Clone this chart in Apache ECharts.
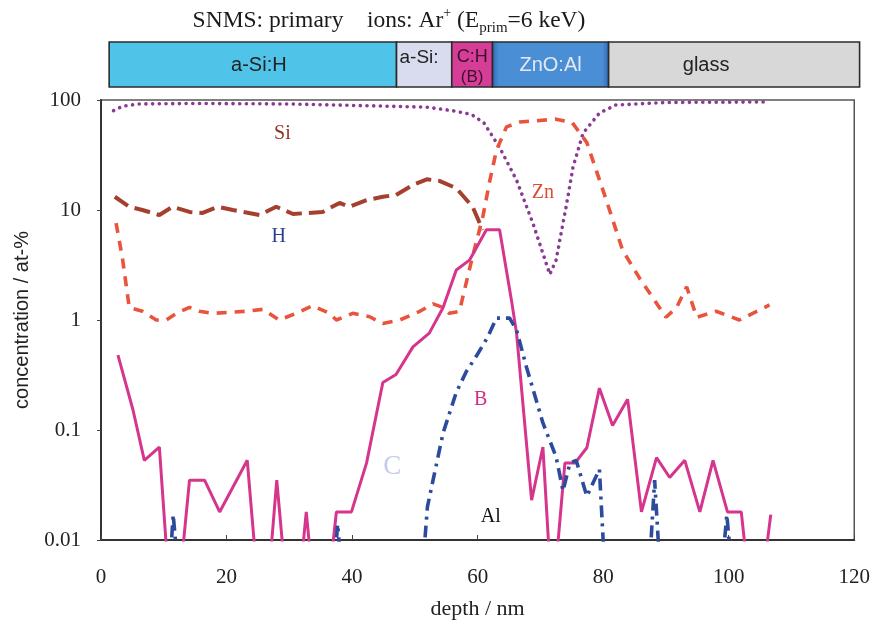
<!DOCTYPE html>
<html>
<head>
<meta charset="utf-8">
<script src="https://cdn.jsdelivr.net/npm/echarts@6.0.0/dist/echarts.min.js"></script>
<style>
  html, body { margin: 0; padding: 0; background: #fff; }
  #main { width: 873px; height: 631px; }
</style>
</head>
<body>
<div id="main"></div>
<script>
// depth in nm, concentration in at-%
const depthSi = [2, 3.5, 6, 15, 30, 45, 52, 56, 59, 61, 63.5, 66.2, 68.8, 71.5, 72.5, 74.1, 75.2, 76.8, 79.4, 82, 90, 106.5]
const valSi = [80, 88, 92, 93, 92, 88, 86, 80, 74, 62, 37, 18.7, 7.6, 2.6, 3.5, 10.7, 24.6, 50, 76, 90, 95, 96]

const depthH = [2.2, 4.5, 6.6, 9.3, 11.4, 14.1, 16.2, 18.6, 21, 25.3, 27.9, 30.6, 35.3, 38, 39.6, 42.3, 44.9, 47, 49.7, 51.9, 53.9, 56.6, 59.2, 60.8]
const valH = [13.2, 10.7, 10, 9, 10.7, 9.6, 9.4, 10.7, 10, 9, 10.7, 9.2, 9.6, 11.6, 10.7, 12.3, 13.2, 13.7, 16.9, 19, 18.4, 15.8, 10.7, 6.6]

const depthZn = [2.4, 3.4, 4.5, 6.6, 8.8, 10.4, 12, 14.1, 15.7, 17.8, 23.2, 25.8, 28.4, 31.1, 33.7, 36.4, 37.5, 40.1, 42.8, 44.9, 47.6, 50.8, 52.9, 54.5, 55.5, 57.1, 58.2, 59.2, 60.8, 61.9, 63, 64.6, 66.7, 72.5, 75.1, 77.4, 80.5, 83.1, 85.8, 87.4, 90, 91.7, 93.3, 94.9, 98, 101.7, 106.5]
const valZn = [7.6, 3.7, 1.3, 1.2, 1.0, 1.0, 1.15, 1.3, 1.2, 1.15, 1.2, 1.25, 1.0, 1.15, 1.35, 1.15, 1.0, 1.15, 1.07, 0.93, 1.0, 1.2, 1.4, 1.3, 1.15, 1.2, 2.2, 3.8, 8.5, 18, 35, 57, 63, 67, 62, 41, 12.3, 4.3, 2.4, 1.76, 1.06, 1.3, 2.0, 1.06, 1.2, 1.0, 1.37]

// 0.006 = below detection, line runs off the bottom of the plot
const depthB = [2.7, 5.1, 6.9, 9.3, 10.6, 12.8, 14.1, 16.5, 18.9, 23.3, 24.7, 26.9, 28, 29.2, 31.9, 32.7, 33.5, 36.6, 37.5, 39.9, 42.3, 44.9, 47, 49.7, 52.3, 54.5, 56.6, 58.7, 61.4, 63.5, 65.4, 66.2, 68.6, 70.4, 71.5, 72.5, 73.9, 75.5, 77.4, 79.4, 81.5, 83.9, 86.1, 88.5, 90.6, 93, 95.4, 97.5, 99.8, 102, 102.9, 105.7, 106.7]
const valB = [0.48, 0.152, 0.053, 0.07, 0.006, 0.006, 0.035, 0.035, 0.018, 0.053, 0.006, 0.006, 0.035, 0.006, 0.006, 0.018, 0.006, 0.006, 0.018, 0.018, 0.05, 0.27, 0.32, 0.57, 0.76, 1.3, 2.85, 3.5, 6.6, 6.6, 1.5, 0.76, 0.023, 0.07, 0.006, 0.006, 0.05, 0.05, 0.069, 0.24, 0.11, 0.19, 0.018, 0.056, 0.037, 0.053, 0.018, 0.053, 0.018, 0.018, 0.006, 0.006, 0.017]

// '-' breaks the Al trace
const depthAl = [11, 11.5, 12.2, '-', 37.2, 37.7, 38.2, '-', 51.3, 52, 52.9, 54.5, 56.6, 58.2, 59.8, 61.6, 63, 65.1, 66.2, 67.8, 70.4, 72.5, 73.6, 74.7, 75.7, 77.4, 79.4, 80.2, '-', 87.4, 88.2, 89, '-', 99, 99.7, 100.4]
const valAl = [0.006, 0.017, 0.006, '-', 0.006, 0.014, 0.006, '-', 0.006, 0.02, 0.035, 0.094, 0.22, 0.34, 0.47, 0.7, 1.04, 1.04, 0.81, 0.37, 0.116, 0.057, 0.028, 0.05, 0.053, 0.025, 0.044, 0.006, '-', 0.006, 0.035, 0.006, '-', 0.006, 0.017, 0.006]

const tagNames = ['Si', 'H', 'Zn', 'B', 'C', 'Al']
const tagDepth = [28.9, 28.3, 70.4, 60.5, 46.4, 62.1]
const tagVal = [49, 5.7, 14.3, 0.19, 0.046, 0.0162]
const tagColors = ['#8f3424', '#243f8e', '#de4a32', '#d02f86', '#c2cdea', '#111']

const layerNames = ['a-Si:H', 'a-Si:', 'C:H', 'ZnO:Al', 'glass']
const layerStart = [1.3, 47.1, 55.9, 62.4, 80.9]
const layerEnd = [47.1, 55.9, 62.4, 80.9, 120.9]
const layerFill = ['#4fc4e8', '#d9dcee', '#d63d97', '#4089d2', '#d8d8d8']

const xTicks = [0, 20, 40, 60, 80, 100, 120]

const pairs = (xs, ys) => xs.map((x, i) => [x, ys[i]])
const serif = 'Liberation Serif, Times New Roman, serif'
const sans = 'Liberation Sans, Arial, sans-serif'

const chart = echarts.init(document.getElementById('main'))

function renderLayer(params, api) {
  const i = params.dataIndex
  const p0 = api.coord([api.value(0), 1])
  const p1 = api.coord([api.value(1), 0])
  const w = p1[0] - p0[0]
  const h = p1[1] - p0[1]
  let fill = layerFill[i]
  if (i === 3) {
    fill = new echarts.graphic.LinearGradient(0, 0, 1, 0, [
      { offset: 0, color: '#2d68b0' }, { offset: 0.06, color: '#4a8ed6' },
      { offset: 0.94, color: '#4a8ed6' }, { offset: 1, color: '#2d68b0' }
    ])
  }
  const children = [{
    type: 'rect',
    shape: { x: p0[0], y: p0[1], width: w, height: h },
    style: { fill: fill, stroke: '#2b2b2b', lineWidth: 1.6 }
  }]
  const cx = p0[0] + w / 2
  const cy = p0[1] + h / 2
  if (i === 1) {
    children.push({ type: 'text', style: { text: 'a-Si:', x: p0[0] + 3, y: p0[1] + 16, align: 'left', verticalAlign: 'middle', font: '19px ' + sans, fill: '#222' } })
  } else if (i === 2) {
    children.push({ type: 'text', style: { text: 'C:H', x: cx, y: p0[1] + 15, align: 'center', verticalAlign: 'middle', font: '18px ' + sans, fill: '#3a1030' } })
    children.push({ type: 'text', style: { text: '(B)', x: cx, y: p0[1] + 35, align: 'center', verticalAlign: 'middle', font: '17px ' + sans, fill: '#3a1030' } })
  } else {
    const dx = i === 4 ? -28 : (i === 0 ? 6 : 0)
    children.push({ type: 'text', style: { text: layerNames[i], x: cx + dx, y: cy + 1, align: 'center', verticalAlign: 'middle', font: '20px ' + sans, fill: i === 3 ? '#e4e8f0' : '#222' } })
  }
  return { type: 'group', children: children }
}

const option = {
  animation: false,
  backgroundColor: '#fff',
  title: {
    text: '{a|SNMS: primary    ions: Ar}{sup|+}{a| (E}{sub|prim}{a|=6 keV)}',
    left: 384,
    top: 1,
    textAlign: 'center',
    textStyle: {
      fontWeight: 'normal',
      rich: {
        a: { fontFamily: serif, fontSize: 23.5, fontWeight: 'normal', color: '#1a1a1a', lineHeight: 30 },
        sup: { fontFamily: serif, fontSize: 14, fontWeight: 'normal', color: '#1a1a1a', verticalAlign: 'top', lineHeight: 30 },
        sub: { fontFamily: serif, fontSize: 15, fontWeight: 'normal', color: '#1a1a1a', verticalAlign: 'bottom', lineHeight: 26 }
      }
    }
  },
  grid: [
    { left: 101, right: 18, top: 100, bottom: 91, show: true, borderColor: '#555', borderWidth: 1.5 },
    { left: 101, width: 765.5, top: 42, height: 45 }
  ],
  xAxis: [{
    type: 'value', gridIndex: 0, min: 0, max: 120, interval: 20,
    name: 'depth / nm', nameLocation: 'middle', nameGap: 58,
    nameTextStyle: { fontFamily: serif, fontSize: 22, color: '#222' },
    axisLine: { lineStyle: { color: '#333', width: 2 } },
    axisTick: { inside: true, length: 5, lineStyle: { color: '#444' } },
    axisLabel: { fontFamily: serif, fontSize: 21, color: '#222', margin: 27,
      formatter: v => xTicks.includes(v) ? String(v) : '' },
    splitLine: { show: false }
  }, {
    type: 'value', gridIndex: 1, min: 0, max: 122, show: false
  }],
  yAxis: [{
    type: 'log', gridIndex: 0, logBase: 10, min: 0.01, max: 100,
    name: 'concentration / at-%', nameLocation: 'middle', nameGap: 69,
    nameTextStyle: { fontFamily: sans, fontSize: 20, color: '#222' },
    axisLine: { show: true, lineStyle: { color: '#333', width: 2 } },
    axisTick: { show: true, length: 4, lineStyle: { color: '#444' } },
    axisLabel: { fontFamily: serif, fontSize: 21, color: '#222', margin: 20,
      formatter: v => String(+v.toPrecision(3)) },
    splitLine: { show: false },
    minorTick: { show: false }
  }, {
    type: 'value', gridIndex: 1, min: 0, max: 1, show: false
  }],
  series: [
    {
      name: 'layers', type: 'custom', xAxisIndex: 1, yAxisIndex: 1, clip: false,
      renderItem: renderLayer,
      data: layerStart.map((s, i) => [s, layerEnd[i]])
    },
    {
      name: 'Si', type: 'line', data: pairs(depthSi, valSi), symbol: 'none',
      lineStyle: { color: '#8a3a94', width: 3.6, type: [0.1, 6.6], cap: 'round' }
    },
    {
      name: 'Zn', type: 'line', data: pairs(depthZn, valZn), symbol: 'none',
      lineStyle: { color: '#e8553c', width: 3.6, type: [10, 8] }
    },
    {
      name: 'H', type: 'line', data: pairs(depthH, valH), symbol: 'none',
      lineStyle: { color: '#a5402f', width: 4, type: [16, 7] }
    },
    {
      name: 'B', type: 'line', data: pairs(depthB, valB), symbol: 'none',
      lineStyle: { color: '#d6358e', width: 3 }
    },
    {
      name: 'Al', type: 'line', data: pairs(depthAl, valAl), symbol: 'none',
      lineStyle: { color: '#2d4b9c', width: 3.6, type: [12, 6, 3, 6] }
    },
    {
      name: 'tags', type: 'scatter', symbolSize: 0, silent: true,
      itemStyle: { opacity: 1 },
      data: tagNames.map((n, i) => ({
        value: [tagDepth[i], tagVal[i]], name: n,
        label: { color: tagColors[i], fontSize: n === 'C' ? 27 : 20 }
      })),
      label: { show: true, position: 'inside', formatter: p => p.name, fontFamily: serif,
        textBorderWidth: 0, textShadowBlur: 0, opacity: 1 }
    }
  ]
}

chart.setOption(option)
</script>
</body>
</html>
